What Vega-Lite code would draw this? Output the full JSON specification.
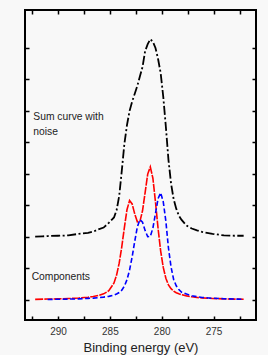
{
  "$schema": "https://vega.github.io/schema/vega-lite/v6.json",
  "width": 231,
  "height": 310,
  "autosize": {"type": "none"},
  "padding": {"left": 25, "top": 10, "right": 12, "bottom": 35},
  "background": "#f8f8f8",
  "config": {
    "view": {"stroke": "#000000", "strokeWidth": 2},
    "font": "Liberation Sans",
    "axis": {"grid": false, "domain": false, "tickColor": "#000000", "tickWidth": 1.5, "tickSize": -4}
  },
  "datasets": {
    "sum": [
      {"E": 292.2, "v": 2.01}, {"E": 291.5, "v": 2.02}, {"E": 291, "v": 2.03}, {"E": 290, "v": 2.04},
      {"E": 289, "v": 2.05}, {"E": 288, "v": 2.1}, {"E": 287.1, "v": 2.13}, {"E": 286.6, "v": 2.17},
      {"E": 286.1, "v": 2.24}, {"E": 285.6, "v": 2.3}, {"E": 285.1, "v": 2.45}, {"E": 284.6, "v": 2.62},
      {"E": 284.35, "v": 2.85}, {"E": 284.1, "v": 3.3}, {"E": 283.85, "v": 4.1}, {"E": 283.6, "v": 4.95},
      {"E": 283.35, "v": 5.55}, {"E": 283.1, "v": 6.0}, {"E": 282.85, "v": 6.3}, {"E": 282.6, "v": 6.55},
      {"E": 282.35, "v": 6.8}, {"E": 282.1, "v": 7.1}, {"E": 281.85, "v": 7.4}, {"E": 281.6, "v": 7.9},
      {"E": 281.35, "v": 8.12}, {"E": 281.1, "v": 8.28}, {"E": 280.85, "v": 8.2}, {"E": 280.6, "v": 8.0},
      {"E": 280.35, "v": 7.65}, {"E": 280.1, "v": 7.2}, {"E": 279.85, "v": 6.45}, {"E": 279.6, "v": 5.5},
      {"E": 279.35, "v": 4.45}, {"E": 279.1, "v": 3.7}, {"E": 278.85, "v": 3.2}, {"E": 278.6, "v": 2.9},
      {"E": 278.35, "v": 2.68}, {"E": 278.1, "v": 2.55}, {"E": 277.6, "v": 2.36}, {"E": 277.1, "v": 2.27},
      {"E": 276.6, "v": 2.21}, {"E": 276.1, "v": 2.16}, {"E": 275.1, "v": 2.1}, {"E": 274, "v": 2.05},
      {"E": 273, "v": 2.04}, {"E": 272.1, "v": 2.04}
    ],
    "red": [
      {"E": 292.2, "v": 0.02}, {"E": 291, "v": 0.03}, {"E": 290, "v": 0.035}, {"E": 289, "v": 0.046},
      {"E": 288, "v": 0.063}, {"E": 287.1, "v": 0.089}, {"E": 286.6, "v": 0.113}, {"E": 286.1, "v": 0.144},
      {"E": 285.6, "v": 0.194}, {"E": 285.1, "v": 0.293}, {"E": 284.6, "v": 0.539}, {"E": 284.35, "v": 0.791},
      {"E": 284.1, "v": 1.169}, {"E": 283.85, "v": 1.689}, {"E": 283.6, "v": 2.3}, {"E": 283.35, "v": 2.864},
      {"E": 283.1, "v": 3.155}, {"E": 282.85, "v": 3.048}, {"E": 282.6, "v": 2.73}, {"E": 282.35, "v": 2.483},
      {"E": 282.1, "v": 2.497}, {"E": 281.85, "v": 2.832}, {"E": 281.6, "v": 3.41}, {"E": 281.35, "v": 3.997},
      {"E": 281.1, "v": 4.227}, {"E": 280.85, "v": 3.866}, {"E": 280.6, "v": 3.105}, {"E": 280.35, "v": 2.268},
      {"E": 280.1, "v": 1.554}, {"E": 279.85, "v": 1.033}, {"E": 279.6, "v": 0.689}, {"E": 279.35, "v": 0.48},
      {"E": 279.1, "v": 0.359}, {"E": 278.85, "v": 0.281}, {"E": 278.6, "v": 0.231}, {"E": 278.35, "v": 0.195},
      {"E": 278.1, "v": 0.168}, {"E": 277.6, "v": 0.13}, {"E": 277.1, "v": 0.101}, {"E": 276.6, "v": 0.081},
      {"E": 276.1, "v": 0.068}, {"E": 275.1, "v": 0.049}, {"E": 274, "v": 0.036}, {"E": 273, "v": 0.029},
      {"E": 272.1, "v": 0.023}
    ],
    "blue": [
      {"E": 291, "v": 0.018}, {"E": 290, "v": 0.023}, {"E": 289, "v": 0.028}, {"E": 288, "v": 0.037},
      {"E": 287.1, "v": 0.05}, {"E": 286.6, "v": 0.059}, {"E": 286.1, "v": 0.072}, {"E": 285.6, "v": 0.092},
      {"E": 285.1, "v": 0.116}, {"E": 284.6, "v": 0.157}, {"E": 284.35, "v": 0.189}, {"E": 284.1, "v": 0.237},
      {"E": 283.85, "v": 0.311}, {"E": 283.6, "v": 0.437}, {"E": 283.35, "v": 0.641}, {"E": 283.1, "v": 0.948},
      {"E": 282.85, "v": 1.369}, {"E": 282.6, "v": 1.864}, {"E": 282.35, "v": 2.319}, {"E": 282.1, "v": 2.555},
      {"E": 281.85, "v": 2.468}, {"E": 281.6, "v": 2.209}, {"E": 281.35, "v": 2.009}, {"E": 281.1, "v": 2.017},
      {"E": 280.85, "v": 2.285}, {"E": 280.6, "v": 2.749}, {"E": 280.35, "v": 3.221}, {"E": 280.1, "v": 3.406},
      {"E": 279.85, "v": 3.115}, {"E": 279.6, "v": 2.502}, {"E": 279.35, "v": 1.65}, {"E": 279.1, "v": 1.05},
      {"E": 278.85, "v": 0.65}, {"E": 278.6, "v": 0.45}, {"E": 278.35, "v": 0.33}, {"E": 278.1, "v": 0.25},
      {"E": 277.6, "v": 0.187}, {"E": 277.1, "v": 0.136}, {"E": 276.6, "v": 0.105}, {"E": 276.1, "v": 0.081},
      {"E": 275.1, "v": 0.055}, {"E": 274, "v": 0.039}, {"E": 273, "v": 0.029}, {"E": 272.1, "v": 0.023}
    ],
    "labels": [
      {"E": 292.38, "v": 5.82, "t": "Sum curve with"},
      {"E": 292.38, "v": 5.34, "t": "noise"},
      {"E": 292.54, "v": 0.74, "t": "Components"}
    ]
  },
  "layer": [
    {
      "data": {"name": "sum"},
      "mark": {"type": "line", "color": "#000000", "strokeWidth": 1.8, "strokeDash": [9, 2.5, 2, 2.5]},
      "encoding": {
        "x": {"field": "E", "type": "quantitative",
          "scale": {"domain": [270.91, 293.18], "reverse": true, "nice": false, "zero": false},
          "axis": {"orient": "bottom", "values": [292.5, 290, 287.5, 285, 282.5, 280, 277.5, 275, 272.5],
            "labelExpr": "datum.value % 5 === 0 ? datum.label : ''",
            "labelFontSize": 10, "labelColor": "#333333", "labelPadding": 10,
            "title": "Binding energy (eV)", "titleFontSize": 13, "titleFontWeight": "normal",
            "titleColor": "#222222", "titlePadding": 5}},
        "y": {"field": "v", "type": "quantitative",
          "scale": {"domain": [-0.635, 9.206], "nice": false, "zero": false},
          "axis": {"orient": "left", "values": [0, 1, 2, 3, 4, 5, 6, 7, 8], "labels": false, "title": null}}
      }
    },
    {
      "data": {"name": "sum"},
      "mark": {"type": "line", "strokeOpacity": 0},
      "encoding": {
        "x": {"field": "E", "type": "quantitative",
          "axis": {"orient": "top", "values": [292.5, 290, 287.5, 285, 282.5, 280, 277.5, 275, 272.5], "labels": false, "title": null}},
        "y": {"field": "v", "type": "quantitative",
          "axis": {"orient": "right", "values": [0, 1, 2, 3, 4, 5, 6, 7, 8], "labels": false, "title": null}}
      }
    },
    {
      "data": {"name": "red"},
      "mark": {"type": "line", "color": "#ff0000", "strokeWidth": 1.6, "strokeDash": [8, 1.2]},
      "encoding": {
        "x": {"field": "E", "type": "quantitative", "axis": null},
        "y": {"field": "v", "type": "quantitative", "axis": null}
      }
    },
    {
      "data": {"name": "blue"},
      "mark": {"type": "line", "color": "#0000ff", "strokeWidth": 1.6, "strokeDash": [5, 2.5]},
      "encoding": {
        "x": {"field": "E", "type": "quantitative", "axis": null},
        "y": {"field": "v", "type": "quantitative", "axis": null}
      }
    },
    {
      "data": {"name": "labels"},
      "mark": {"type": "text", "align": "left", "baseline": "middle", "fontSize": 10.3, "color": "#222222"},
      "encoding": {
        "x": {"field": "E", "type": "quantitative", "axis": null},
        "y": {"field": "v", "type": "quantitative", "axis": null},
        "text": {"field": "t", "type": "nominal"}
      }
    }
  ],
  "resolve": {"axis": {"x": "independent", "y": "independent"}}
}
